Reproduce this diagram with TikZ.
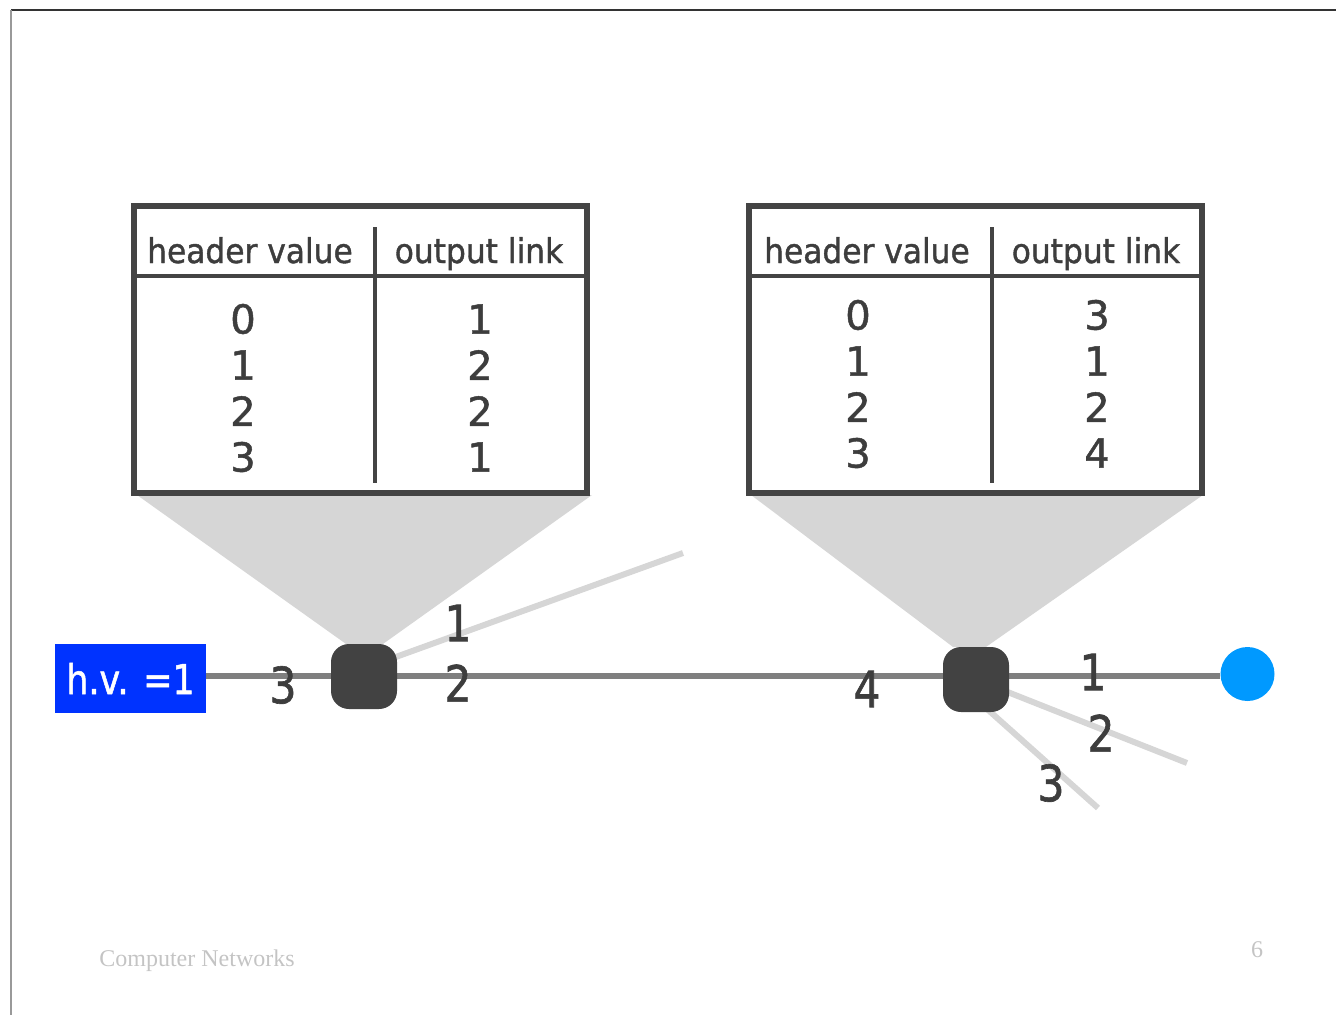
\documentclass[tikz,border=0pt]{standalone}
\usepackage{fontspec}
\setmainfont{DejaVu Sans}[FakeBold=1.2]
\newfontfamily\handfont[FakeBold=1.2]{DejaVu Sans}
\newfontfamily\narrowfont[FakeStretch=0.85, FakeBold=1.2]{DejaVu Sans}
\newfontfamily\headfont[FakeStretch=0.92, FakeBold=1.2]{DejaVu Sans}
\newfontfamily\footfont{Liberation Serif}
\usetikzlibrary{backgrounds}
\definecolor{inkgray}{HTML}{3D3D3D}
\definecolor{boxgray}{HTML}{444444}
\definecolor{switchgray}{HTML}{424242}
\definecolor{funnelgray}{HTML}{D6D6D6}
\definecolor{linkgray}{HTML}{7F7F7F}
\definecolor{hvblue}{RGB}{0,51,255}
\definecolor{hostblue}{HTML}{0099FF}
\definecolor{footgray}{HTML}{C4C4C4}
\tikzset{
  tablebox/.style={draw=boxgray, line width=6pt, minimum width=453pt, minimum height=287pt, inner sep=0pt},
  divider/.style={draw=boxgray, line width=4pt},
  headtext/.style={text=inkgray, anchor=base, inner sep=0pt, font=\headfont\fontsize{34}{34}\selectfont},
  cell/.style={text=inkgray, inner sep=0pt, font=\handfont\fontsize{40}{40}\selectfont},
  switchbox/.style={fill=switchgray, rounded corners=18pt, minimum width=66pt, minimum height=65pt, inner sep=0pt},
  linklabel/.style={text=inkgray, inner sep=0pt, font=\narrowfont\fontsize{50}{50}\selectfont},
  mainlink/.style={draw=linkgray, line width=6pt},
  branch/.style={draw=funnelgray, line width=6pt},
  footer/.style={text=footgray, inner sep=0pt, font=\footfont\fontsize{24}{24}\selectfont},
}
\begin{document}
\begin{tikzpicture}[x=1pt, y=-1pt]
    \useasboundingbox (0,0) rectangle (1336,1015);
    \draw[black!80, line width=1.5pt] (11,10) -- (1336,10);
    \draw[black!40, line width=2pt] (11,10) -- (11,1015);

    \node[tablebox] (tabA) at (360.5,349) {};
    \node[tablebox] (tabB) at (975.5,349) {};
    \foreach \tab/\mid/\hvx/\olx/\hdx/\hdy/\top/\rows in {
        A/375/243/480/250/479/273/{0/1,1/2,2/2,3/1},
        B/992/858/1097/867/1096/269/{0/3,1/1,2/2,3/4}} {
        \draw[divider] (\mid,227) -- (\mid,483);
        \draw[divider] (tab\tab.west |- 0,276) ++(4,0) -- ([xshift=-5pt]tab\tab.east |- 0,276);
        \node[headtext] (hdv\tab) at (\hdx,263) {header value};
        \node[headtext] (hdo\tab) at (\hdy,263) {output link};
        \foreach \hv/\ol [count=\k] in \rows {
            \node[cell] (hv\tab\k) at (\hvx, \top+46*\k) {\hv};
            \node[cell] (ol\tab\k) at (\olx, \top+46*\k) {\ol};
        }
    }

    \node[switchbox] (swA) at (364,676.5) {};
    \node[switchbox] (swB) at (976,679.5) {};
    \node[fill=hvblue, text=white, minimum width=151pt, minimum height=69pt, inner sep=0pt,
          font=\narrowfont\fontsize{41}{41}\selectfont] (hv) at (130.5,678.5) {h.v. =1};
    \node[circle, fill=hostblue, minimum size=54pt, inner sep=0pt] (dst) at (1247.5,674) {};

    \coordinate (endA1) at (683,553);
    \coordinate (endB2) at (1187,763);
    \coordinate (endB3) at (1098,808);

    \begin{scope}[on background layer]
        \fill[funnelgray] (137,495) -- (592,495) -- ([xshift=-14pt]swA.north east) -- ([xshift=15pt]swA.north west) -- cycle;
        \fill[funnelgray] (751,495) -- (1203,495) -- ([xshift=-23pt]swB.north east) -- ([xshift=10pt]swB.north west) -- cycle;
        \draw[mainlink] (hv.east |- 0,676) -- (dst.west |- 0,676);
        \draw[branch] ([yshift=8pt]swA.center) -- (endA1);
        \draw[branch] (swB.center) -- (endB2);
        \draw[branch] ([xshift=-22pt]swB.center) -- (endB3);
    \end{scope}

    \node[linklabel] (inA) at (283,685) {3};
    \node[linklabel] (outA1) at (458,623) {1};
    \node[linklabel] (outA2) at (458,683) {2};
    \node[linklabel] (inB) at (867,689) {4};
    \node[linklabel] (outB1) at (1093,672) {1};
    \node[linklabel] (outB2) at (1101,733) {2};
    \node[linklabel] (outB3) at (1051,783) {3};

    \node[footer] (foot) at (197,961) {Computer Networks};
    \node[footer] (page) at (1257,950) {6};
\end{tikzpicture}
\end{document}
